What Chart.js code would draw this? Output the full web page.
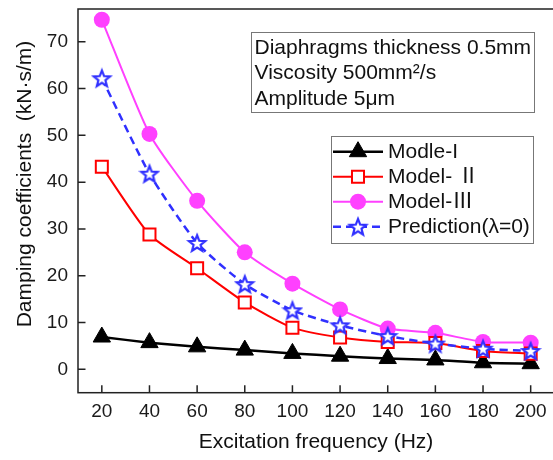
<!DOCTYPE html>
<html><head><meta charset="utf-8">
<script src="https://cdn.jsdelivr.net/npm/chart.js@4"></script>
<style>html,body{margin:0;padding:0;background:#fff;overflow:hidden}#wrap{width:557px;height:460px;position:relative}canvas{display:block}</style>
</head><body><div id="wrap"><canvas id="c" width="557" height="460"></canvas></div>
<script>
// ---- data ----
const frequencies = [20, 40, 60, 80, 100, 120, 140, 160, 180, 200];
const xTickValues = [20, 40, 60, 80, 100, 120, 140, 160, 180, 200];
const yTickValues = [0, 10, 20, 30, 40, 50, 60, 70];
const modle1 = [6.9, 5.7, 4.8, 4.1, 3.4, 2.8, 2.3, 2.0, 1.4, 1.2];
const model2 = [43.3, 28.8, 21.6, 14.3, 8.9, 6.8, 5.85, 5.6, 3.9, 3.35];
const model3 = [74.7, 50.3, 36.0, 25.0, 18.3, 12.8, 8.7, 7.8, 5.85, 5.7];
const prediction = [62.2, 41.8, 27.0, 18.2, 12.6, 9.4, 7.1, 5.5, 4.4, 3.9];
const seriesLabels = ['Modle-I', 'Model- \u2161', 'Model-\u2162', 'Prediction(\u03bb=0)'];
const annotationLines = ['Diaphragms thickness 0.5mm', 'Viscosity 500mm\u00b2/s', 'Amplitude 5\u03bcm'];
const xTitle = 'Excitation frequency (Hz)';
const yTitle = 'Damping coefficients  (kN\u00b7s/m)';

const FONT = '"Liberation Sans", Arial, "Noto Sans CJK SC", sans-serif';

function makeStar() {
  const c = document.createElement('canvas');
  c.width = 22; c.height = 22;
  const g = c.getContext('2d');
  g.beginPath();
  for (let i = 0; i < 10; i++) {
    const r = i % 2 ? 3.7 : 8.6;
    const a = -Math.PI / 2 + i * Math.PI / 5;
    g.lineTo(11 + r * Math.cos(a), 11.8 + r * Math.sin(a));
  }
  g.closePath();
  g.fillStyle = '#ffffff'; g.fill();
  g.lineWidth = 2.2; g.strokeStyle = '#3030ff'; g.lineJoin = 'miter'; g.stroke();
  return c;
}
const starImg = makeStar();

const pts = arr => frequencies.map((f, i) => ({ x: f, y: arr[i] }));

const datasets = [
  { label: seriesLabels[0], data: pts(modle1), borderColor: '#000000', backgroundColor: '#000000',
    borderWidth: 2.5, pointStyle: 'triangle', pointRadius: 10, pointBorderWidth: 1, pointBackgroundColor: '#000', pointBorderColor: '#000', order: 4, tension: 0.2 },
  { label: seriesLabels[1], data: pts(model2), borderColor: '#ff0000', backgroundColor: '#ffffff',
    borderWidth: 2, pointStyle: 'rect', pointRadius: 8.5, pointBorderWidth: 2, pointBackgroundColor: '#ffffff', pointBorderColor: '#ff0000', order: 2, tension: 0.2 },
  { label: seriesLabels[2], data: pts(model3), borderColor: '#ff40ff', backgroundColor: '#ff40ff',
    borderWidth: 2, pointStyle: 'circle', pointRadius: 8, pointBorderWidth: 0, pointBackgroundColor: '#ff40ff', pointBorderColor: '#ff40ff', order: 3, tension: 0.2 },
  { label: seriesLabels[3], data: pts(prediction), borderColor: '#3030ff', backgroundColor: '#ffffff',
    borderWidth: 2.5, borderDash: [8, 5], pointStyle: starImg, pointRadius: 9, order: 1, tension: 0.2 }
];

const decor = {
  id: 'decor',
  afterDatasetsDraw(chart) {
    const ctx = chart.ctx, a = chart.chartArea;
    const xs = chart.scales.x, ys = chart.scales.y;
    ctx.save();
    // frame
    ctx.strokeStyle = '#222'; ctx.lineWidth = 1.5; ctx.setLineDash([]);
    ctx.strokeRect(a.left, a.top, a.right - a.left, a.bottom - a.top);
    // inward ticks
    ctx.beginPath();
    xTickValues.forEach(v => { const p = xs.getPixelForValue(v); ctx.moveTo(p, a.bottom); ctx.lineTo(p, a.bottom - 7.5); });
    yTickValues.forEach(v => { const p = ys.getPixelForValue(v); ctx.moveTo(a.left, p); ctx.lineTo(a.left + 7.5, p); });
    ctx.stroke();
    // annotation box
    ctx.strokeStyle = '#777'; ctx.lineWidth = 1;
    ctx.strokeRect(251.5, 32.5, 283, 80);
    ctx.fillStyle = '#111'; ctx.font = '21px ' + FONT; ctx.textBaseline = 'alphabetic'; ctx.textAlign = 'left';
    annotationLines.forEach((t, i) => ctx.fillText(t, 254.5, 53.5 + 25.5 * i));
    // legend box
    ctx.strokeStyle = '#777'; ctx.lineWidth = 1;
    ctx.strokeRect(331.5, 136.5, 202, 107);
    datasets.forEach((d, i) => {
      const y = 151.7 + 25 * i;
      ctx.save();
      ctx.strokeStyle = d.borderColor; ctx.lineWidth = d.borderWidth;
      ctx.setLineDash(d.borderDash || []);
      ctx.beginPath(); ctx.moveTo(333, y); ctx.lineTo(383, y); ctx.stroke();
      ctx.setLineDash([]);
      ctx.fillStyle = d.pointBackgroundColor || '#fff';
      ctx.strokeStyle = d.pointBorderColor || d.borderColor;
      ctx.lineWidth = d.pointBorderWidth || 0;
      Chart.helpers.drawPoint(ctx, { pointStyle: d.pointStyle, radius: d.pointRadius, rotation: 0, borderWidth: d.pointBorderWidth || 0 }, 358, y);
      ctx.restore();
      ctx.fillStyle = '#111'; ctx.font = '21px ' + FONT; ctx.textBaseline = 'middle'; ctx.textAlign = 'left';
      ctx.fillText(d.label, 388, y + 1);
    });
    // axis titles
    ctx.fillStyle = '#111'; ctx.font = '21px ' + FONT; ctx.textAlign = 'center'; ctx.textBaseline = 'middle';
    ctx.fillText(xTitle, 316, 442);
    ctx.translate(25, 184); ctx.rotate(-Math.PI / 2);
    ctx.fillText(yTitle, 0, 0);
    ctx.restore();
  }
};

function zeroPad(s) { s.paddingLeft = 0; s.paddingRight = 0; s.paddingTop = 0; s.paddingBottom = 0; }

new Chart(document.getElementById('c'), {
  type: 'line',
  data: { datasets },
  options: {
    animation: false, responsive: false, devicePixelRatio: 1,
    layout: { autoPadding: false, padding: { top: 9, right: 2.5, left: 0, bottom: 0 } },
    plugins: { legend: { display: false }, tooltip: { enabled: false } },
    scales: {
      x: {
        type: 'linear', min: 10, max: 210,
        afterBuildTicks: s => { s.ticks = xTickValues.map(v => ({ value: v })); },
        afterFit: s => { s.height = 67.3; zeroPad(s); },
        grid: { display: false, drawTicks: false }, border: { display: false },
        ticks: { font: { size: 19, family: FONT }, color: '#1a1a1a', padding: 8, maxRotation: 0, autoSkip: false }
      },
      y: {
        min: -5, max: 77,
        afterBuildTicks: s => { s.ticks = yTickValues.map(v => ({ value: v })); },
        afterFit: s => { s.width = 78; zeroPad(s); },
        grid: { display: false, drawTicks: false }, border: { display: false },
        ticks: { font: { size: 19, family: FONT }, color: '#1a1a1a', padding: 10, autoSkip: false }
      }
    }
  },
  plugins: [decor]
});
</script>
</body></html>
